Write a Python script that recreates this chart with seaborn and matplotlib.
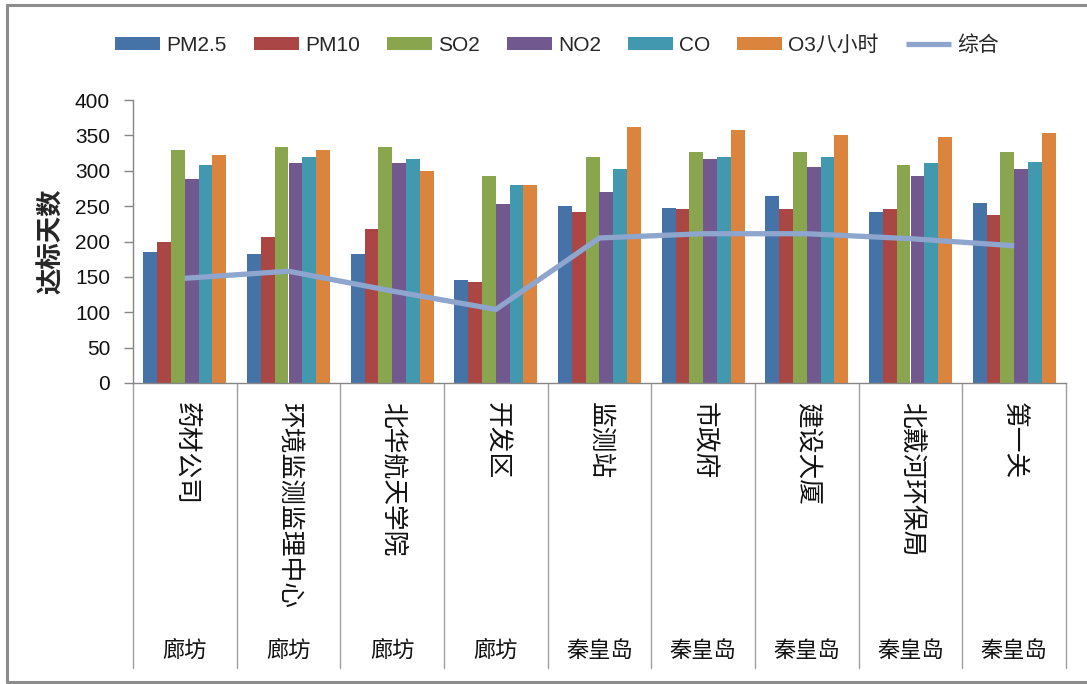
import numpy as np
import pandas as pd
import seaborn as sns
import matplotlib
matplotlib.use("Agg")
import matplotlib.pyplot as plt
from matplotlib.lines import Line2D
from matplotlib.transforms import blended_transform_factory

# ---- data ----
sites = ["药材公司", "环境监测监理中心", "北华航天学院", "开发区", "监测站",
         "市政府", "建设大厦", "北戴河环保局", "第一关"]
cities = ["廊坊", "廊坊", "廊坊", "廊坊", "秦皇岛", "秦皇岛", "秦皇岛", "秦皇岛", "秦皇岛"]
pollutants = ["PM2.5", "PM10", "SO2", "NO2", "CO", "O3八小时"]

pm25 = [185, 183, 183, 145, 250, 248, 264, 242, 255]
pm10 = [199, 206, 217, 143, 241, 246, 246, 246, 237]
so2 = [329, 333, 333, 293, 320, 327, 327, 308, 327]
no2 = [289, 311, 311, 253, 270, 317, 306, 292, 302]
co = [308, 320, 317, 280, 302, 319, 319, 311, 313]
o3 = [322, 329, 299, 280, 362, 357, 350, 347, 353]
combined = [148, 158, 130, 104, 205, 211, 211, 204, 194]

y_ticks = [0, 50, 100, 150, 200, 250, 300, 350, 400]

series = [pm25, pm10, so2, no2, co, o3]
colors = ["#4572A7", "#AA4643", "#89A54E", "#71588F", "#4198AF", "#DB843D"]
line_color = "#8EA5CD"

df = pd.DataFrame(
    [(s, p, v) for p, vals in zip(pollutants, series) for s, v in zip(sites, vals)],
    columns=["site", "pollutant", "value"],
)

# ---- figure ----
sns.set_theme(style="white")
plt.rcParams["font.family"] = ["Liberation Sans", "Noto Sans CJK SC", "DejaVu Sans"]
cjk = ["Noto Sans CJK SC", "DejaVu Sans"]

W, H = 1087, 684
fig = plt.figure(figsize=(W / 100, H / 100), dpi=100)
fig.patch.set_facecolor("white")

# plot area in pixels
px_l, px_r, px_t, px_b = 133, 1066, 100, 383
ax = fig.add_axes([px_l / W, 1 - px_b / H, (px_r - px_l) / W, (px_b - px_t) / H])

sns.barplot(data=df, x="site", y="value", hue="pollutant", hue_order=pollutants,
            palette=colors, saturation=1, width=0.8, linewidth=0, ax=ax)
sns.lineplot(x=np.arange(len(sites)), y=combined, color=line_color, linewidth=3.8,
             label="综合", ax=ax, solid_capstyle="butt")

ax.set_xlim(-0.5, len(sites) - 0.5)
ax.set_ylim(0, 400)
ax.set_yticks(y_ticks)
ax.set_xticks([])
ax.set_xlabel("")
ax.set_ylabel("达标天数", fontsize=19, fontweight="bold", family=cjk)
ax.yaxis.set_label_coords((65 - px_l) / (px_r - px_l), 0.5)

axis_gray = "#868686"
for side in ["top", "right"]:
    ax.spines[side].set_visible(False)
for side in ["left", "bottom"]:
    ax.spines[side].set_color(axis_gray)
    ax.spines[side].set_linewidth(1.0)
ax.tick_params(axis="y", direction="out", length=6.5, width=1.0, color=axis_gray,
               pad=10, labelsize=15, labelcolor="#111111", left=True)
ax.grid(False)

# multi-level category axis: dividers, rotated site names, city names
tr = blended_transform_factory(ax.transData, fig.transFigure)
y_axis = 1 - px_b / H
y_div_bottom = 1 - 668 / H
for i in range(len(sites) + 1):
    ax.add_line(Line2D([i - 0.5, i - 0.5], [y_axis, y_div_bottom], transform=tr,
                       color="#A0A0A0", linewidth=1.0, clip_on=False))
for i, (s, c) in enumerate(zip(sites, cities)):
    ax.text(i, 1 - 402 / H, s, transform=tr, rotation=270, ha="center", va="top",
            fontsize=18.5, family=cjk, color="#111111")
    ax.text(i, 1 - 650 / H, c, transform=tr, ha="center", va="center",
            fontsize=16, family=cjk, color="#111111")

# legend across the top
handles, labels = ax.get_legend_handles_labels()
if ax.get_legend() is not None:
    ax.get_legend().remove()
fig.legend(handles, labels, loc="center", bbox_to_anchor=(557 / W, 1 - 45 / H),
           ncol=len(labels), frameon=False, handlelength=2.15,
           handleheight=0.6, handletextpad=0.3, columnspacing=1.3,
           prop={"family": ["Liberation Sans", "Noto Sans CJK SC"], "size": 15})

# chart-area border
border = "#8C8C8C"
fig.add_artist(Line2D([7 / W, 7 / W], [1 - 5 / H, 1 - 682 / H], transform=fig.transFigure,
                      color=border, linewidth=2.2))
fig.add_artist(Line2D([7 / W, 1.0], [1 - 5 / H, 1 - 5 / H], transform=fig.transFigure,
                      color=border, linewidth=2.2))
fig.add_artist(Line2D([7 / W, 1.0], [1 - 682 / H, 1 - 682 / H], transform=fig.transFigure,
                      color=border, linewidth=2.2))

fig.savefig("out.png", dpi=100)
